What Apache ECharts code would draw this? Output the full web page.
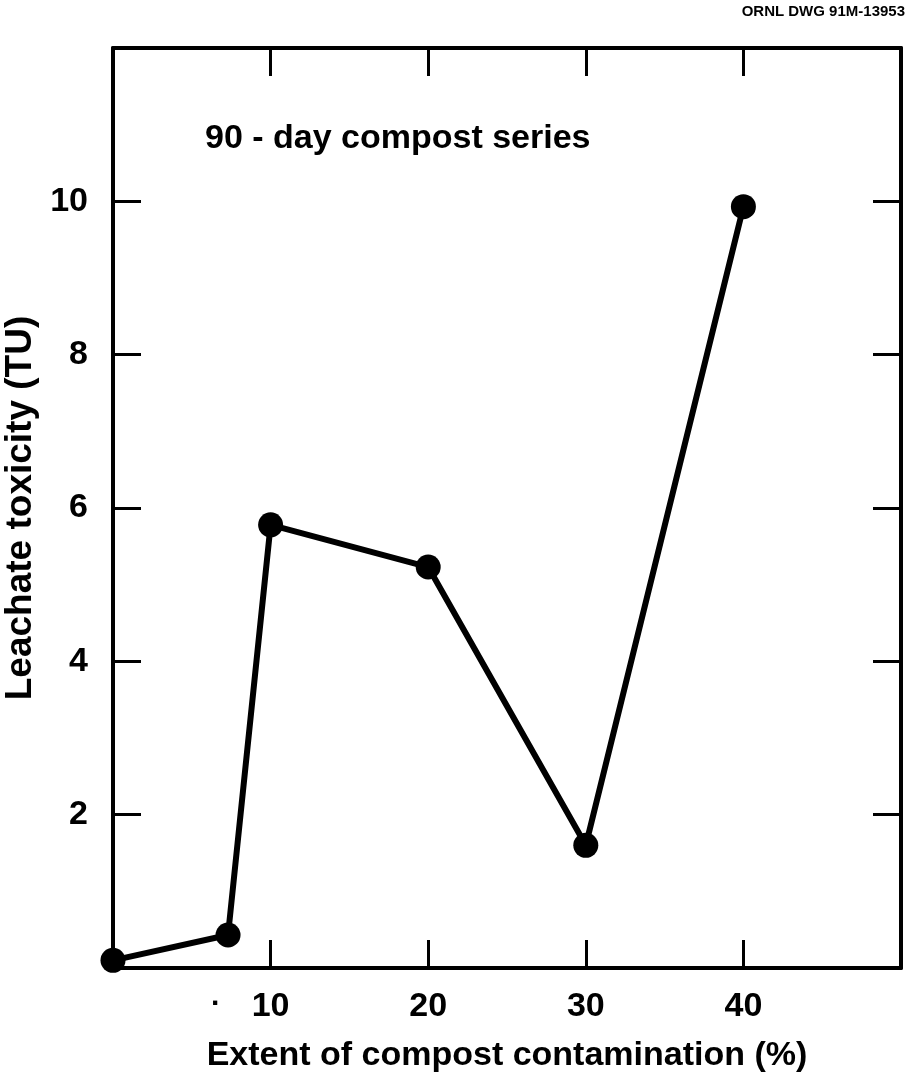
<!DOCTYPE html>
<html>
<head>
<meta charset="utf-8">
<script src="https://cdn.jsdelivr.net/npm/echarts@6/dist/echarts.min.js"></script>
<style>
  html, body { margin: 0; padding: 0; background: #fff; }
  #chart { width: 908px; height: 1080px; }
</style>
</head>
<body>
<div id="chart"></div>
<script>
// contamination (%) and leachate toxicity (TU)
const contamination = [0, 7.3, 10, 20, 30, 40];
const toxicity = [0.1, 0.43, 5.78, 5.23, 1.6, 9.93];
const xTicks = [10, 20, 30, 40];
const yTicks = [2, 4, 6, 8, 10];

const FONT = '"Liberation Sans", Arial, Helvetica, sans-serif';
const INK = '#000';

const chart = echarts.init(document.getElementById('chart'), null, { renderer: 'canvas' });

const tickOnly = (list) => (v) => (list.indexOf(v) >= 0 ? String(v) : '');

// shared axis line / inward tick style
const frameLine = { show: true, onZero: false, lineStyle: { color: INK, width: 4 } };
const inTick = { show: true, inside: true, length: 28, lineStyle: { color: INK, width: 3 } };

chart.setOption({
  backgroundColor: '#fff',
  animation: false,
  grid: { left: 113, top: 48, width: 788, height: 920, outerBoundsMode: 'none', containLabel: false },
  xAxis: [
    {
      type: 'value', min: 0, max: 50, interval: 10, position: 'bottom',
      axisLine: frameLine, axisTick: inTick, splitLine: { show: false },
      axisLabel: {
        margin: 22, color: INK, fontFamily: FONT, fontWeight: 'bold', fontSize: 34,
        formatter: tickOnly(xTicks)
      },
      name: 'Extent of compost contamination (%)',
      nameLocation: 'middle', nameGap: 71,
      nameTextStyle: { color: INK, fontFamily: FONT, fontWeight: 'bold', fontSize: 34 }
    },
    {
      type: 'value', min: 0, max: 50, interval: 10, position: 'top',
      axisLine: frameLine, axisTick: inTick, splitLine: { show: false },
      axisLabel: { show: false }
    }
  ],
  yAxis: [
    {
      type: 'value', min: 0, max: 12, interval: 2, position: 'left',
      axisLine: frameLine, axisTick: inTick, splitLine: { show: false },
      axisLabel: {
        margin: 25, color: INK, fontFamily: FONT, fontWeight: 'bold', fontSize: 34,
        formatter: tickOnly(yTicks)
      },
      name: 'Leachate toxicity (TU)',
      nameLocation: 'middle', nameGap: 62,
      nameTextStyle: { color: INK, fontFamily: FONT, fontWeight: 'bold', fontSize: 37 }
    },
    {
      type: 'value', min: 0, max: 12, interval: 2, position: 'right',
      axisLine: frameLine, axisTick: inTick, splitLine: { show: false },
      axisLabel: { show: false }
    }
  ],
  graphic: [
    {
      type: 'text', left: 205, top: 122,
      style: { text: '90 - day compost series', fill: INK, font: 'bold 34px ' + FONT }
    },
    {
      type: 'text', right: 3, top: 4,
      style: { text: 'ORNL DWG 91M-13953', fill: INK, font: 'bold 15px ' + FONT }
    },
    {
      type: 'text', left: 211, top: 982,
      style: { text: '.', fill: INK, font: 'bold 30px ' + FONT }
    }
  ],
  series: [
    {
      type: 'line',
      data: contamination.map((x, i) => [x, toxicity[i]]),
      clip: false,
      symbol: 'circle',
      symbolSize: 25,
      lineStyle: { color: INK, width: 6 },
      itemStyle: { color: INK },
      z: 5
    }
  ]
});
</script>
</body>
</html>
